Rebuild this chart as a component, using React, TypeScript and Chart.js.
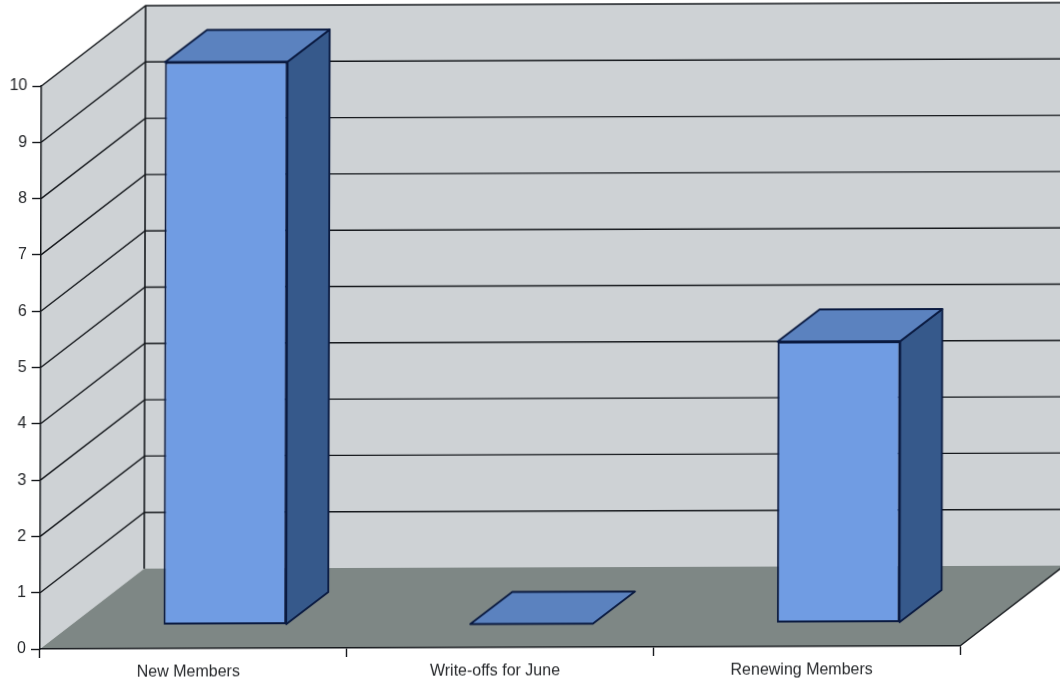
import React, { useEffect, useRef } from "react";
import { Chart, registerables } from "chart.js";

Chart.register(...registerables);

const categories = ["New Members", "Write-offs for June", "Renewing Members"];
const memberCounts = [10, 0, 5];
const axisMax = 10;

const WALL_COLOR = "#ced2d5";
const FLOOR_COLOR = "#7e8785";
const LINE_COLOR = "#15181c";
const BAR_FRONT = "#709ce3";
const BAR_TOP = "#5b82bf";
const BAR_SIDE = "#36598b";
const BAR_EDGE = "#0a1a40";

// Oblique projection: depth of the room, and of the bars standing in it.
const ROOM_DX = 104;
const ROOM_DY = -80;
const BAR_INSET_DX = 31.5;
const BAR_INSET_DY = -23.5;
const BAR_DX = 42;
const BAR_DY = -32;

type Pt = [number, number];

function fillPoly(ctx: CanvasRenderingContext2D, pts: Pt[], fill: string, stroke?: string, lw = 1.8) {
  ctx.beginPath();
  pts.forEach(([x, y], i) => (i ? ctx.lineTo(x, y) : ctx.moveTo(x, y)));
  ctx.closePath();
  ctx.fillStyle = fill;
  ctx.fill();
  if (stroke) {
    ctx.lineWidth = lw;
    ctx.lineJoin = "round";
    ctx.strokeStyle = stroke;
    ctx.stroke();
  }
}

function line(ctx: CanvasRenderingContext2D, pts: Pt[], lw = 1.4) {
  ctx.beginPath();
  pts.forEach(([x, y], i) => (i ? ctx.lineTo(x, y) : ctx.moveTo(x, y)));
  ctx.lineWidth = lw;
  ctx.strokeStyle = LINE_COLOR;
  ctx.stroke();
}

// Walls, floor and the gridlines that wrap around them.
const roomPlugin = {
  id: "room",
  beforeDraw(chart: any) {
    const { ctx, chartArea: a, scales } = chart;
    const y = scales.y;
    const L = a.left;
    const R = a.right;
    const T = y.getPixelForValue(axisMax);
    const B = y.getPixelForValue(0);
    ctx.save();
    fillPoly(ctx, [[L, T], [L + ROOM_DX, T + ROOM_DY], [L + ROOM_DX, B + ROOM_DY], [L, B]], WALL_COLOR);
    fillPoly(ctx, [[L + ROOM_DX, T + ROOM_DY], [R + ROOM_DX, T + ROOM_DY], [R + ROOM_DX, B + ROOM_DY], [L + ROOM_DX, B + ROOM_DY]], WALL_COLOR);
    fillPoly(ctx, [[L, B], [L + ROOM_DX, B + ROOM_DY], [R + ROOM_DX, B + ROOM_DY], [R, B]], FLOOR_COLOR);
    for (const tick of y.ticks) {
      if (tick.value === 0) continue;
      const py = y.getPixelForValue(tick.value);
      line(ctx, [[L, py], [L + ROOM_DX, py + ROOM_DY], [R + ROOM_DX, py + ROOM_DY]]);
    }
    line(ctx, [[L + ROOM_DX, T + ROOM_DY], [L + ROOM_DX, B + ROOM_DY]], 1.6);
    line(ctx, [[R, B], [R + ROOM_DX, B + ROOM_DY]]);
    ctx.restore();
  },
  beforeDatasetsDraw(chart: any) {
    const { ctx } = chart;
    ctx.save();
    ctx.translate(BAR_INSET_DX, BAR_INSET_DY);
    // Top and side faces, extruded from each bar element.
    for (const bar of chart.getDatasetMeta(0).data) {
      const { x, y, base, width } = bar.getProps(["x", "y", "base", "width"], true);
      const l = x - width / 2;
      const r = x + width / 2;
      if (base - y > 0) {
        fillPoly(ctx, [[r, y], [r + BAR_DX, y + BAR_DY], [r + BAR_DX, base + BAR_DY], [r, base]], BAR_SIDE, BAR_EDGE);
      }
      fillPoly(ctx, [[l, y], [l + BAR_DX, y + BAR_DY], [r + BAR_DX, y + BAR_DY], [r, y]], BAR_TOP, BAR_EDGE);
    }
  },
  afterDatasetsDraw(chart: any) {
    chart.ctx.restore();
  },
};

export default function App() {
  const ref = useRef<HTMLCanvasElement | null>(null);

  useEffect(() => {
    const chart = new Chart(ref.current as HTMLCanvasElement, {
      type: "bar",
      data: {
        labels: categories,
        datasets: [
          {
            data: memberCounts,
            backgroundColor: BAR_FRONT,
            borderColor: BAR_EDGE,
            borderWidth: 2,
            borderSkipped: false,
            categoryPercentage: 1,
            barPercentage: 0.4,
            clip: false,
          },
        ],
      },
      options: {
        responsive: false,
        animation: false,
        layout: { padding: { top: 85, right: 104, left: 0, bottom: 0 } },
        plugins: { legend: { display: false }, title: { display: false }, tooltip: { enabled: false } },
        scales: {
          x: {
            afterFit: (s: any) => {
              s.height = 41;
            },
            grid: { drawOnChartArea: false, tickLength: 9, tickColor: LINE_COLOR, tickWidth: 1.4, offset: true },
            border: { color: LINE_COLOR, width: 1.5 },
            ticks: {
              color: "#26282b",
              font: { family: "'Liberation Sans', Arial, sans-serif", size: 16 },
              padding: 5,
              labelOffset: -5,
              maxRotation: 0,
            },
          },
          y: {
            min: 0,
            max: axisMax,
            afterFit: (s: any) => {
              s.width = 40;
            },
            grid: { drawOnChartArea: false, tickLength: 9, tickColor: LINE_COLOR, tickWidth: 1.4 },
            border: { color: LINE_COLOR, width: 1.5 },
            ticks: {
              stepSize: 1,
              color: "#26282b",
              font: { family: "'Liberation Sans', Arial, sans-serif", size: 16 },
              padding: 5,
            },
          },
        },
      },
      plugins: [roomPlugin],
    } as any);
    return () => chart.destroy();
  }, []);

  return (
    <div style={{ position: "fixed", left: 0, top: 0, width: 1060, height: 689, overflow: "hidden", background: "#fff" }}>
      <canvas
        ref={ref}
        width={1064}
        height={689}
        style={{
          display: "block",
          transformOrigin: "40px 648px",
          transform: "matrix(1, -0.0033, -0.0025, 1, 0, 1)",
        }}
      />
    </div>
  );
}
